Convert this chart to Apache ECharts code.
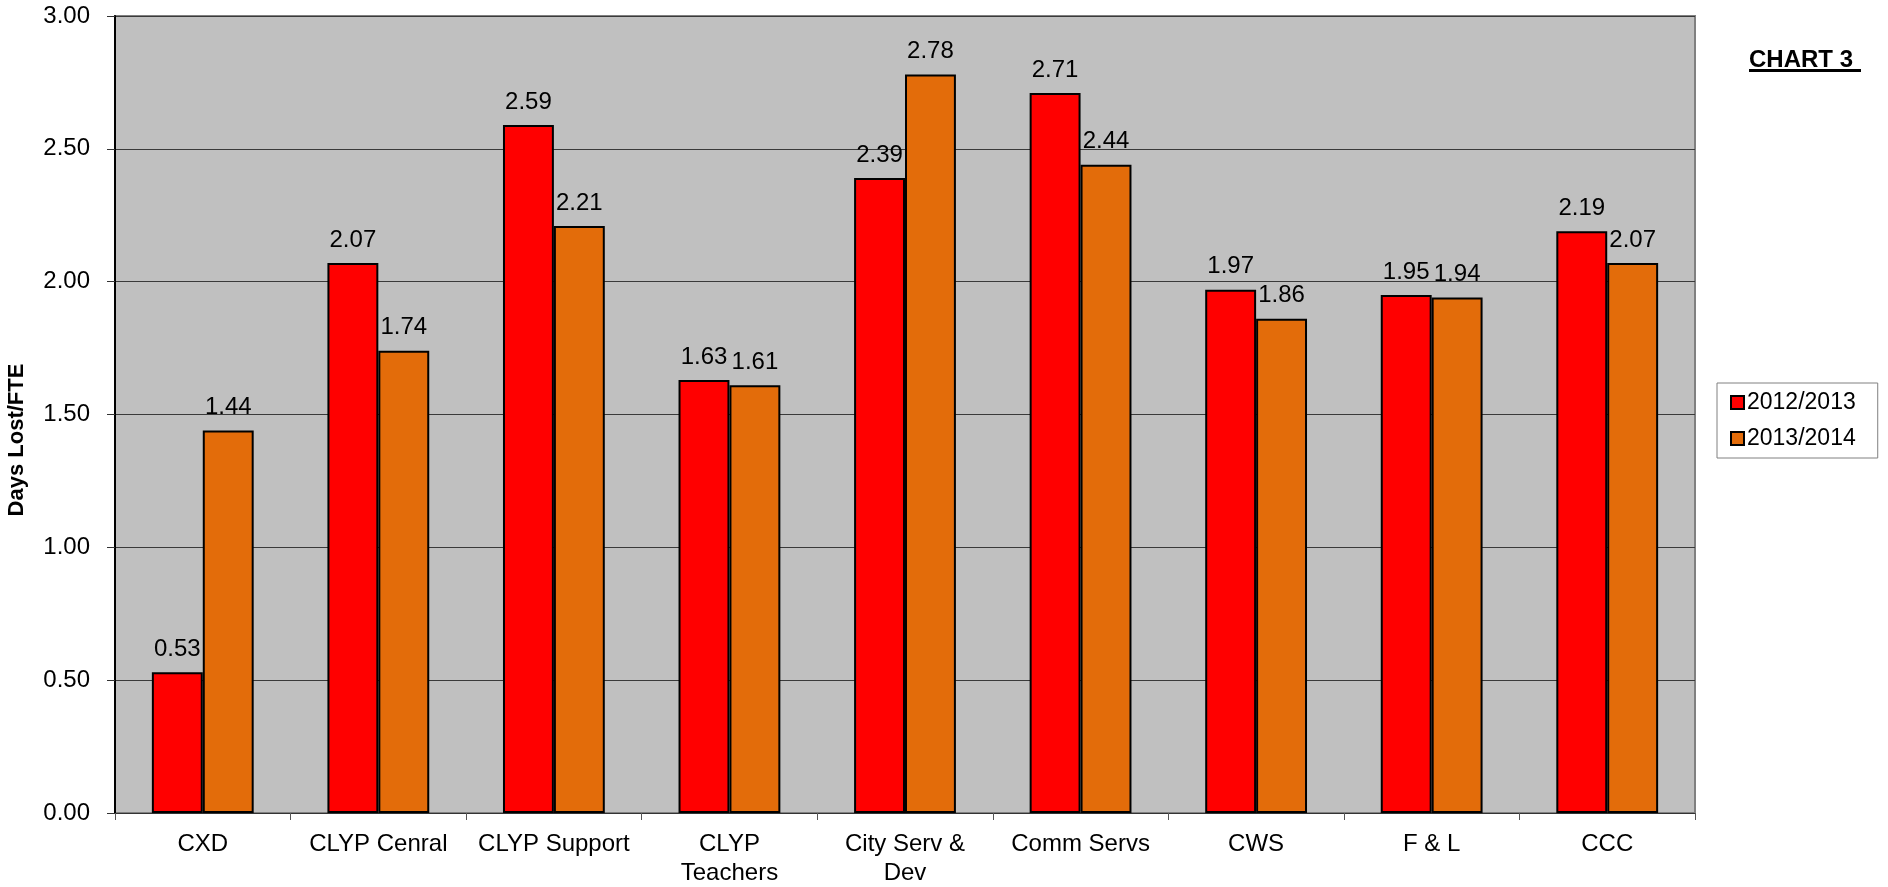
<!DOCTYPE html>
<html>
<head>
<meta charset="utf-8">
<script src="https://cdn.jsdelivr.net/npm/echarts@6/dist/echarts.min.js"></script>
<style>
  html, body { margin: 0; padding: 0; background: #fff; }
  #container { width: 1888px; height: 887px; }
</style>
</head>
<body>
<div id="container"></div>
<script>
var dom = document.getElementById("container");
var myChart = echarts.init(dom);

var categories = ['CXD', 'CLYP Cenral', 'CLYP Support', 'CLYP\nTeachers', 'City Serv &\nDev', 'Comm Servs', 'CWS', 'F & L', 'CCC'];
var seriesNames = ['2012/2013', '2013/2014'];
var values2012 = [0.53, 2.07, 2.59, 1.63, 2.39, 2.71, 1.97, 1.95, 2.19];
var values2013 = [1.44, 1.74, 2.21, 1.61, 2.78, 2.44, 1.86, 1.94, 2.07];
var colors = ['#FF0000', '#E36C0A'];

var font = 'Liberation Sans, Arial, sans-serif';

function barSeries(name, data, color) {
    return {
        name: name,
        type: 'bar',
        data: data,
        barGap: '0%',
        barCategoryGap: '42%',
        itemStyle: { color: color, borderColor: '#000', borderWidth: 2 },
        label: {
            show: true,
            position: 'top',
            distance: 11,
            color: '#000',
            fontFamily: font,
            fontSize: 24,
            formatter: function (p) { return p.value.toFixed(2); }
        }
    };
}

var option = {
    animation: false,
    textStyle: { fontFamily: font },
    grid: {
        left: 115, top: 16, width: 1580, height: 797,
        outerBoundsMode: 'none',
        containLabel: false,
        show: true,
        backgroundColor: '#C0C0C0',
        borderColor: '#808080',
        borderWidth: 2
    },
    legend: {
        orient: 'vertical',
        left: 1717,
        top: 383,
        padding: [8, 22, 8, 13],
        itemGap: 13,
        itemWidth: 13,
        itemHeight: 13,
        borderColor: '#808080',
        borderWidth: 1,
        backgroundColor: '#fff',
        icon: 'rect',
        textStyle: { fontSize: 23, color: '#000', fontFamily: font, padding: [0, 0, 0, -2] },
        data: seriesNames
    },
    graphic: [
        {
            type: 'text',
            left: 1749,
            top: 48,
            style: { text: 'CHART 3', font: 'bold 24px Liberation Sans, Arial, sans-serif', fill: '#000' }
        },
        {
            type: 'rect',
            left: 1749,
            top: 69,
            shape: { width: 112, height: 3 },
            style: { fill: '#000' }
        },
        {
            type: 'text',
            x: 17,
            y: 440,
            rotation: Math.PI / 2,
            style: {
                text: 'Days Lost/FTE',
                font: 'bold 22px Liberation Sans, Arial, sans-serif',
                fill: '#000',
                align: 'center',
                verticalAlign: 'middle'
            }
        }
    ],
    xAxis: {
        type: 'category',
        data: categories,
        axisLine: { lineStyle: { color: '#333', width: 1 } },
        axisTick: { show: true, length: 7, lineStyle: { color: '#555' } },
        axisLabel: { color: '#000', fontSize: 24, margin: 17, lineHeight: 29, interval: 0 }
    },
    yAxis: {
        type: 'value',
        min: 0,
        max: 3,
        interval: 0.5,
        axisLine: { show: true, lineStyle: { color: '#000', width: 2 } },
        axisTick: { show: true, length: 8, lineStyle: { color: '#333' } },
        axisLabel: {
            color: '#000',
            fontSize: 24,
            margin: 25,
            formatter: function (v) { return v.toFixed(2); }
        },
        splitLine: { lineStyle: { color: '#3a3a3a', width: 1 } }
    },
    series: [
        barSeries(seriesNames[0], values2012, colors[0]),
        barSeries(seriesNames[1], values2013, colors[1])
    ]
};

myChart.setOption(option);
</script>
</body>
</html>
